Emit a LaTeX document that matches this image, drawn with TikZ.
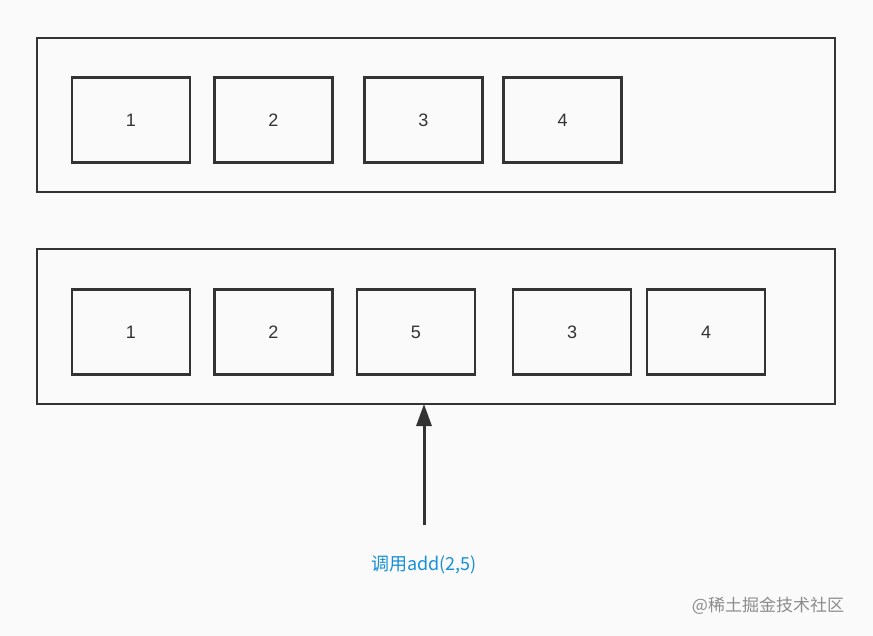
\documentclass[tikz,border=0pt]{standalone}
\usepackage{fontspec}
\setmainfont{Liberation Sans}
\newfontfamily\cjk{Noto Sans CJK SC}
\usetikzlibrary{arrows.meta}
\begin{document}
\begin{tikzpicture}[x=1pt,y=-1pt,
  outer/.style={draw=black!80,line width=2.5pt},
  cell/.style={draw=black!80,line width=2.5pt,minimum width=118pt,minimum height=85pt,font=\fontsize{18}{20}\selectfont,text=black!80}]
\fill[black!2] (0,0) rectangle (873,636);
\useasboundingbox (0,0) rectangle (873,636);
\draw[outer] (37,38) rectangle (835,192);
\node[cell] (a1) at (131,120) {1};
\node[cell] (a2) at (273.5,120) {2};
\node[cell] (a3) at (423.5,120) {3};
\node[cell] (a4) at (562.5,120) {4};
\draw[outer] (37,249) rectangle (835,404);
\coordinate (top) at (424,404);
\node[cell] (b1) at (131,332) {1};
\node[cell] (b2) at (273.5,332) {2};
\node[cell] (b5) at (416,332) {5};
\node[cell] (b3) at (572,332) {3};
\node[cell] (b4) at (706,332) {4};
\node[text={rgb,255:red,24;green,144;blue,216},font=\cjk\fontsize{18}{20}\selectfont] (lab) at (424,565) {调用add(2,5)};
\coordinate (bot) at (424,525);
\draw[line width=3pt,draw=black!80,-{Triangle[length=22pt,width=15pt]}] (bot) -- (top);
\node[text=black!45,font=\cjk\fontsize{17}{20}\selectfont] (wm) at (768,606) {@稀土掘金技术社区};
\end{tikzpicture}
\end{document}
